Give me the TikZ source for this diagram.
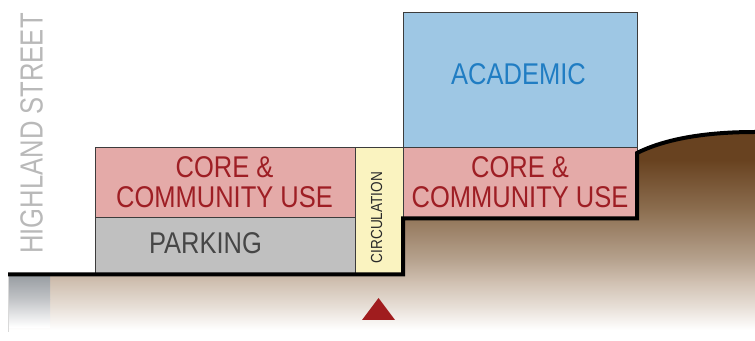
\documentclass[tikz,border=0pt]{standalone}
\usepackage{fontspec}
\setmainfont[FakeStretch=0.85]{Liberation Sans}
\newfontfamily\streetfont[FakeStretch=0.8]{Liberation Sans}
\definecolor{pinkfill}{RGB}{228,170,168}
\definecolor{redtext}{RGB}{158,30,36}
\definecolor{grayfill}{RGB}{192,192,192}
\definecolor{graytext}{RGB}{70,70,70}
\definecolor{yellowfill}{RGB}{250,243,192}
\definecolor{bluefill}{RGB}{158,199,228}
\definecolor{bluetext}{RGB}{32,125,195}
\definecolor{trired}{RGB}{160,28,30}
\definecolor{streetgray}{RGB}{185,185,185}
\definecolor{boxline}{RGB}{60,60,60}
\definecolor{g1}{RGB}{104,66,32}
\definecolor{g2}{RGB}{140,110,80}
\definecolor{g3}{RGB}{182,162,142}
\definecolor{g4}{RGB}{208,192,177}
\definecolor{g5}{RGB}{234,227,220}
\definecolor{s1}{RGB}{150,155,160}
\definecolor{s2}{RGB}{195,197,200}
\tikzset{
  room/.style={draw=boxline, line width=0.75pt},
  biglabel/.style={font=\fontsize{22.5}{22.5}\selectfont, align=center, inner sep=0pt},
  groundline/.style={line width=3pt, black, line join=miter},
}
\begin{document}
\begin{tikzpicture}[x=0.75pt, y=-0.75pt]
\useasboundingbox (0,0) rectangle (755,341);
% ground gradient
\begin{scope}
\clip (8,274) -- (403,274) -- (403,218) -- (637,218) -- (637,153)
  .. controls (665,139) and (705,132) .. (755,132) -- (755,341) -- (8,341) -- cycle;
\shade[top color=g1, bottom color=g1] (0,125) rectangle (755,160);
\shade[top color=g1, bottom color=g2] (0,159.5) rectangle (755,210);
\shade[top color=g2, bottom color=g3] (0,209.5) rectangle (755,260);
\shade[top color=g3, bottom color=g4] (0,259.5) rectangle (755,282);
\shade[top color=g4, bottom color=g5] (0,281.5) rectangle (755,310);
\shade[top color=g5, bottom color=white] (0,309.5) rectangle (755,330);
\fill[white] (0,329.5) rectangle (755,341);
\shade[top color=s1, bottom color=s2] (8,274) rectangle (50,300);
\shade[top color=s2, bottom color=white] (8,299.5) rectangle (50,327);
\end{scope}
\draw[white!85!black, line width=0.4pt] (8.5,276) -- (8.5,332);
% rooms
\draw[room, fill=pinkfill] (95,148) rectangle (355,218);
\draw[room, fill=grayfill] (95,218) rectangle (355,274);
\draw[room, fill=yellowfill] (355,148) rectangle (403,274);
\draw[room, fill=bluefill] (403,13) rectangle (637,148);
\draw[room, fill=pinkfill] (403,148) rectangle (637,218);
% ground line
\draw[groundline] (8,274.5) -- (403,274.5) -- (403,218.5) -- (637,218.5) -- (637,153)
  .. controls (665,139) and (705,132) .. (755,132);
% labels
\node[biglabel, text=redtext] (coreL) at (224.5,182.5) {CORE \&\\COMMUNITY USE};
\node[biglabel, text=redtext] (coreR) at (520,182.5) {CORE \&\\COMMUNITY USE};
\node[biglabel, text=graytext] (parking) at (205.5,243.5) {PARKING};
\node[biglabel, text=bluetext] (academic) at (518.5,74) {ACADEMIC};
\node[inner sep=0pt, rotate=90, text=graytext!60!black, font=\fontsize{12}{12}\selectfont] (circ) at (376.5,217.5) {CIRCULATION};
\node[inner sep=0pt, rotate=90, text=streetgray, font=\streetfont\fontsize{24}{24}\selectfont] (street) at (31.5,133.5) {HIGHLAND STREET};
% entrance marker
\fill[trired] (362,320) -- (378.5,298) -- (395,320) -- cycle;
\end{tikzpicture}
\end{document}
